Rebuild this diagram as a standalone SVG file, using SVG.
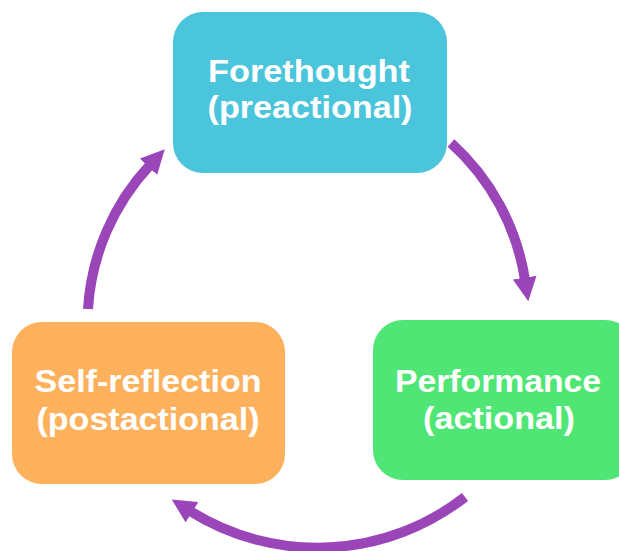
<svg xmlns="http://www.w3.org/2000/svg" width="619" height="551" viewBox="0 0 619 551">
  <style>
    .label { font-family: "Liberation Sans", Arial, sans-serif; font-weight: bold; font-size: 32px; fill: #ffffff; text-anchor: middle; }
    .link { fill: none; stroke: #9A46B8; stroke-width: 10; marker-end: url(#head); }
  </style>
  <defs>
    <marker id="head" viewBox="0 0 10 10" refX="1" refY="5" markerWidth="2.4" markerHeight="2.4" markerUnits="strokeWidth" orient="auto">
      <path d="M0,0 L10,5 L0,10 z" fill="#9A46B8"/>
    </marker>
  </defs>
  <rect width="619" height="551" fill="#ffffff"/>

  <!-- cycle arrows between the three phases -->
  <g id="connectors">
    <path class="link" d="M451,143 A232 232 0 0 1 525,280"/>
    <path class="link" d="M465,497 A240 240 0 0 1 190,511"/>
    <path class="link" d="M88,309 A232 232 0 0 1 150,165"/>
  </g>

  <g id="forethought">
    <rect x="173" y="12" width="274" height="161" rx="30" fill="#4BC5DB"/>
    <text class="label" x="309" y="82" textLength="202" lengthAdjust="spacingAndGlyphs">Forethought</text>
    <text class="label" x="310" y="118" textLength="205" lengthAdjust="spacingAndGlyphs">(preactional)</text>
  </g>

  <g id="performance">
    <rect x="373" y="320" width="262" height="160" rx="30" fill="#50E675"/>
    <text class="label" x="498" y="392" textLength="206" lengthAdjust="spacingAndGlyphs">Performance</text>
    <text class="label" x="499" y="429" textLength="152" lengthAdjust="spacingAndGlyphs">(actional)</text>
  </g>

  <g id="self-reflection">
    <rect x="12" y="322" width="273" height="162" rx="30" fill="#FDB15D"/>
    <text class="label" x="148" y="392" textLength="227" lengthAdjust="spacingAndGlyphs">Self-reflection</text>
    <text class="label" x="148" y="430" textLength="223" lengthAdjust="spacingAndGlyphs">(postactional)</text>
  </g>
</svg>
